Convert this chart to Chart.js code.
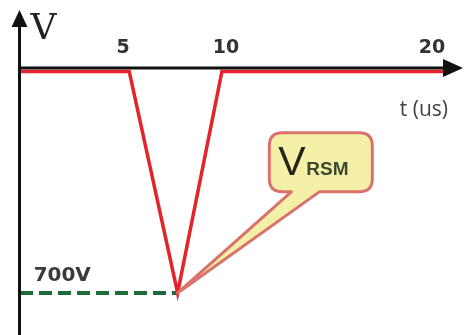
<!DOCTYPE html>
<html>
<head>
<meta charset="utf-8">
<script src="https://cdn.jsdelivr.net/npm/chart.js@4.4.1/dist/chart.umd.min.js"></script>
<style>
  html, body { margin: 0; padding: 0; background: #fff; }
  #wrap { width: 465px; height: 335px; }
</style>
</head>
<body>
<div id="wrap"><canvas id="pulse"></canvas></div>
<script>
// reverse voltage pulse
const timeUs = [0, 5.3, 7.65, 9.8, 20.7];
const voltage = [0, 0, -700, 0, 0];
const clampTime = [0, 7.65];
const clampVoltage = [-700, -700];
const tickValues = [5, 10, 20];

const axisTitleX = 't (us)';
const axisTitleY = 'V';
const levelLabel = '700V';
const calloutMain = 'V';
const calloutSub = 'RSM';

const toPoints = (xs, ys) => xs.map((v, i) => ({ x: v, y: ys[i] }));

// ============================
// axes, arrows, labels and the callout
// ============================
const sketch = {
    id: 'sketch',
    afterDatasetsDraw(chart) {
        const { ctx, chartArea, scales: { x, y } } = chart;
        const x0 = x.getPixelForValue(0) - 0.5;
        const y0 = y.getPixelForValue(0) - 3.5;
        const xEnd = chartArea.right;
        const yTop = chartArea.top + 10;

        ctx.save();
        ctx.strokeStyle = '#111';
        ctx.fillStyle = '#111';
        ctx.lineWidth = 3;

        ctx.beginPath();
        ctx.moveTo(x0, chart.height);
        ctx.lineTo(x0, yTop + 12);
        ctx.stroke();
        ctx.beginPath();
        ctx.moveTo(x0, yTop);
        ctx.lineTo(x0 - 8, yTop + 17);
        ctx.lineTo(x0 + 8, yTop + 17);
        ctx.closePath();
        ctx.fill();

        ctx.beginPath();
        ctx.moveTo(x0, y0);
        ctx.lineTo(xEnd - 14, y0);
        ctx.stroke();
        ctx.beginPath();
        ctx.moveTo(xEnd, y0);
        ctx.lineTo(xEnd - 20, y0 - 9);
        ctx.lineTo(xEnd - 20, y0 + 9);
        ctx.closePath();
        ctx.fill();

        // callout pointing at the bottom of the dip
        const tip = chart.getDatasetMeta(0).data[2];
        const bx = x.getPixelForValue(12.1);
        const by = y.getPixelForValue(-194);
        const bw = 103, bh = 59, r = 13;
        const t1 = bx + 22, t2 = bx + 50;
        ctx.beginPath();
        ctx.moveTo(bx + r, by);
        ctx.lineTo(bx + bw - r, by);
        ctx.quadraticCurveTo(bx + bw, by, bx + bw, by + r);
        ctx.lineTo(bx + bw, by + bh - r);
        ctx.quadraticCurveTo(bx + bw, by + bh, bx + bw - r, by + bh);
        ctx.lineTo(t2, by + bh);
        ctx.lineTo(tip.x, tip.y);
        ctx.lineTo(t1, by + bh);
        ctx.lineTo(bx + r, by + bh);
        ctx.quadraticCurveTo(bx, by + bh, bx, by + bh - r);
        ctx.lineTo(bx, by + r);
        ctx.quadraticCurveTo(bx, by, bx + r, by);
        ctx.closePath();
        ctx.fillStyle = '#f4f0a8';
        ctx.fill();
        ctx.strokeStyle = '#d9726a';
        ctx.lineWidth = 3;
        ctx.lineJoin = 'round';
        ctx.stroke();

        ctx.textAlign = 'left';
        ctx.textBaseline = 'alphabetic';
        ctx.fillStyle = '#24261a';
        ctx.font = '41px "Liberation Sans"';
        ctx.fillText(calloutMain, bx + 9, by + 42);
        ctx.fillStyle = '#3b4a2e';
        ctx.font = 'bold 19px "Liberation Sans"';
        ctx.fillText(calloutSub, bx + 37, by + 42);

        // free labels
        ctx.fillStyle = '#222';
        ctx.font = '36px "DejaVu Serif"';
        ctx.fillText(axisTitleY, x0 + 11, chartArea.top + 39);

        ctx.fillStyle = '#444';
        ctx.font = '21px "Open Sans"';
        ctx.textAlign = 'center';
        ctx.textBaseline = 'middle';
        ctx.fillText(axisTitleX, x.getPixelForValue(19.6), y.getPixelForValue(-122));

        ctx.fillStyle = '#3a3a3a';
        ctx.font = 'bold 20px "DejaVu Sans"';
        ctx.fillText(levelLabel, x.getPixelForValue(2.05), y.getPixelForValue(-700) - 17);
        ctx.restore();
    }
};

const ctx = document.getElementById('pulse').getContext('2d');
const pulseChart = new Chart(ctx, {
    type: 'line',
    data: {
        datasets: [
            {
                label: 'tension',
                data: toPoints(timeUs, voltage),
                borderColor: '#e4232b',
                borderWidth: 3.5,
                borderJoinStyle: 'miter',
                pointRadius: 0,
                tension: 0,
                clip: false
            },
            {
                label: '700V',
                data: toPoints(clampTime, clampVoltage),
                borderColor: '#1d6b3b',
                borderWidth: 4,
                borderDash: [13, 6],
                pointRadius: 0,
                tension: 0,
                clip: false
            }
        ]
    },
    options: {
        responsive: true,
        maintainAspectRatio: false,
        animation: false,
        layout: { padding: { left: 20, right: 2, top: 0, bottom: 0 } },
        plugins: {
            legend: { display: false },
            tooltip: { enabled: false }
        },
        scales: {
            x: {
                type: 'linear',
                position: { y: 0 },
                min: 0,
                max: 21.5,
                afterBuildTicks: (scale) => {
                    scale.ticks = tickValues.map(v => ({ value: v }));
                },
                grid: { display: false, drawTicks: false },
                border: { display: false },
                ticks: {
                    padding: -35,
                    maxRotation: 0,
                    autoSkip: false,
                    color: '#333',
                    font: { family: 'DejaVu Sans', size: 19, weight: 'bold' }
                }
            },
            y: {
                type: 'linear',
                display: false,
                min: -833,
                max: 226
            }
        }
    },
    plugins: [sketch]
});
</script>
</body>
</html>
